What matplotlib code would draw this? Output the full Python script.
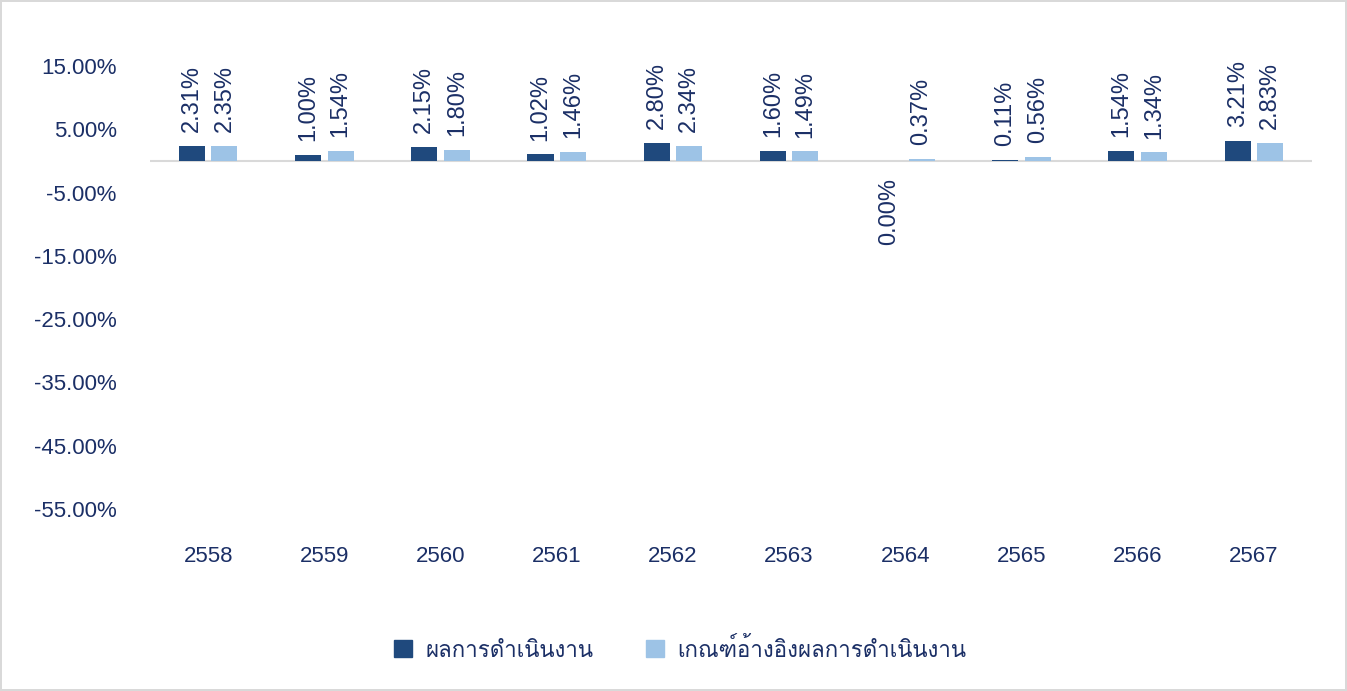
import matplotlib
matplotlib.use("Agg")
import matplotlib.pyplot as plt
from matplotlib import font_manager
from matplotlib.ft2font import FT2Font
from matplotlib.patches import Patch
import numpy as np

# ----------------------------------------------------------------------
years = ["2558", "2559", "2560", "2561", "2562", "2563", "2564", "2565", "2566", "2567"]
performance = [2.31, 1.00, 2.15, 1.02, 2.80, 1.60, -0.001, 0.11, 1.54, 3.21]
benchmark = [2.35, 1.54, 1.80, 1.46, 2.34, 1.49, 0.37, 0.56, 1.34, 2.83]
series_names = ["ผลการดำเนินงาน", "เกณฑ์อ้างอิงผลการดำเนินงาน"]
y_ticks = [15, 5, -5, -15, -25, -35, -45, -55]
# ----------------------------------------------------------------------

DARK = "#1F497D"
LIGHT = "#9DC3E6"
TEXT = "#1B2F66"


def find_thai_font():
    for f in font_manager.fontManager.ttflist:
        try:
            if 0x0E1C in FT2Font(f.fname).get_charmap():
                return f.name
        except Exception:
            continue
    return None


thai = find_thai_font()
families = ["Liberation Sans"] + ([thai] if thai else []) + ["DejaVu Sans"]
plt.rcParams["font.family"] = families

fig = plt.figure(figsize=(13.47, 6.91), dpi=100)
fig.patch.set_edgecolor("#D9D9D9")
fig.patch.set_linewidth(1.5)
ax = fig.add_axes([0.1114, 0.2634, 0.8626, 0.6411])

x = np.arange(len(years))
w = 0.225
off = 0.14
b1 = ax.bar(x - off, performance, w, color=DARK)
b2 = ax.bar(x + off, benchmark, w, color=LIGHT)

for bars, vals in [(b1, performance), (b2, benchmark)]:
    for rect, v in zip(bars, vals):
        cx = rect.get_x() + rect.get_width() / 2
        label = f"{abs(v):.2f}%" if abs(v) < 0.005 else f"{v:.2f}%"
        if v > 0:
            ax.annotate(label, (cx, v), xytext=(0, 10), textcoords="offset points",
                        rotation=90, ha="center", va="bottom", fontsize=17, color=TEXT)
        else:
            ax.annotate(label, (cx, v), xytext=(0, -12), textcoords="offset points",
                        rotation=90, ha="center", va="top", fontsize=17, color=TEXT)

ax.axhline(0, color="#D9D9D9", lw=1.5, zorder=0)
ax.set_xlim(-0.5, len(years) - 0.5)
ax.set_ylim(-55, 15)
ax.set_yticks(y_ticks)
ax.set_yticklabels([f"{t:.2f}%" for t in y_ticks])
ax.set_xticks(x)
ax.set_xticklabels(years)
ax.tick_params(axis="both", length=0, labelsize=16, labelcolor=TEXT)
ax.tick_params(axis="y", pad=24)
ax.tick_params(axis="x", pad=27)
for s in ax.spines.values():
    s.set_visible(False)

handles = [Patch(color=DARK), Patch(color=LIGHT)]
fig.legend(handles, series_names, loc="center", bbox_to_anchor=(0.505, 0.06), ncol=2,
           frameon=False, fontsize=16, labelcolor=TEXT, handlelength=0.8, handleheight=0.8,
           columnspacing=2.4, handletextpad=0.6)

fig.savefig("out.png", dpi=100)
